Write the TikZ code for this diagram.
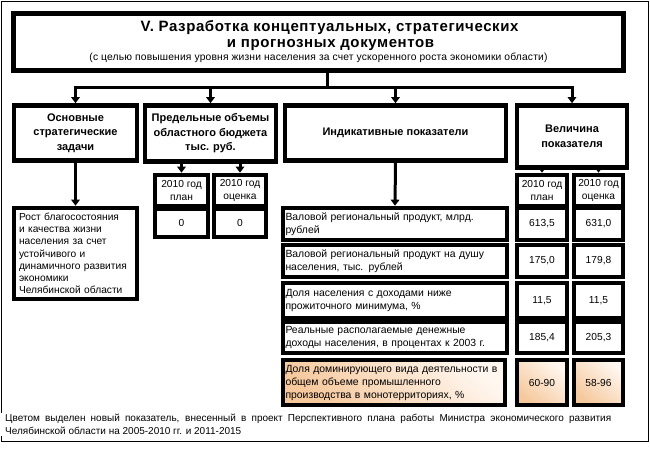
\documentclass[tikz,border=0pt]{standalone}
\usepackage{fontspec}
\setmainfont{Liberation Sans}
\usetikzlibrary{arrows.meta}
\definecolor{peachD}{RGB}{246,200,156}
\definecolor{peachL}{RGB}{255,247,240}
\begin{document}
\begin{tikzpicture}[x=1pt,y=-1pt,
  box/.style={draw=black,line width=4.6pt,inner sep=2pt,align=center,fill=white},
  hdr/.style={box,font=\fontsize{11}{14.5}\selectfont\bfseries},
  cell/.style={box,font=\fontsize{10.2}{13}\selectfont},
  rowbox/.style={box,align=left,font=\fontsize{10.4}{13}\selectfont,inner xsep=2.5pt},
  hot/.style={shading=axis,top color=peachL,bottom color=peachD,shading angle=-40},
  con/.style={line width=3pt,-{Triangle[length=6pt,width=8.5pt]}},
  plain/.style={line width=3pt,line cap=rect}
]
\useasboundingbox (0,0) rectangle (650,448);
\fill[white] (0,0) rectangle (650,448);
\draw[line width=1.3pt] (1.5,1.5) rectangle (648.5,441.5);

% title
\node[box,line width=5pt,minimum width=610pt,minimum height=57pt,inner sep=0pt] (title) at (318.5,42)
 {\hspace*{22pt}\fontsize{15}{17}\selectfont\bfseries\addfontfeatures{LetterSpace=4}V. Разработка концептуальных, стратегических\\[4pt]%
  \hspace*{24pt}\fontsize{15}{17}\selectfont\bfseries\addfontfeatures{LetterSpace=4}и прогнозных документов\\[1pt]%
  \fontsize{10.3}{12}\selectfont\addfontfeatures{LetterSpace=1.5}(с целью повышения уровня жизни населения за счет ускоренного роста экономики области)};

% header row
\node[hdr,minimum width=123pt,minimum height=55pt] (A) at (75.5,133) {Основные\\стратегические\\задачи};
\node[hdr,minimum width=131pt,minimum height=56pt] (B) at (210.5,133.5) {Предельные объемы\\областного бюджета\\тыс. руб.};
\node[hdr,minimum width=221pt,minimum height=55pt] (C) at (395.5,133) {Индикативные показатели};
\node[hdr,minimum width=110pt,minimum height=62pt] (D) at (572,136.5) {Величина\\показателя};

% trunk and bar
\coordinate (bar) at (327,87);
\draw[plain] (bar |- title.south) -- (bar);
\draw[con] (bar) -| (A.north);
\draw[con] (bar) -| (B.north);
\draw[con] (bar) -| (C.north);
\draw[con] (bar) -| (D.north);

% B sub boxes
\node[cell,minimum width=53pt,minimum height=31pt] (B1) at (181.5,190.5) {2010 год\\план};
\node[cell,minimum width=52pt,minimum height=31pt] (B2) at (240,190.5) {2010 год\\оценка};
\node[cell,minimum width=53pt,minimum height=28pt] (B1v) at (181.5,223) {0};
\node[cell,minimum width=52pt,minimum height=28pt] (B2v) at (240,223) {0};
\draw[con] (B1.north |- B.south) -- (B1.north);
\draw[con] (B2.north |- B.south) -- (B2.north);

% D sub boxes
\node[cell,minimum width=50pt,minimum height=31pt] (D1) at (542,190.5) {2010 год\\план};
\node[cell,minimum width=49pt,minimum height=31pt] (D2) at (598.5,190.5) {2010 год\\оценка};
\draw[con] (D1.north |- D.south) -- (D1.north);
\draw[con] (D2.north |- D.south) -- (D2.north);

% A text
\node[rowbox,inner xsep=5pt,text width=113pt,minimum width=123pt,minimum height=91pt,font=\fontsize{10.2}{12.2}\selectfont] (At) at (75.5,253.5)
 {Рост благосостояния\\и качества жизни\\населения за счет\\устойчивого и\\динамичного развития\\экономики\\Челябинской области};
\draw[con] (A.south) -- (At.north);

% indicator rows
\node[rowbox,text width=219pt,minimum width=224pt,minimum height=32pt] (R1) at (395,224) {Валовой региональный продукт, млрд.\\рублей};
\node[cell,minimum width=50pt,minimum height=32pt] (R1a) at (542,224) {613,5};
\node[cell,minimum width=49pt,minimum height=32pt] (R1b) at (598.5,224) {631,0};
\draw[con] (C.south) -- (R1.north);

\node[rowbox,text width=219pt,minimum width=224pt,minimum height=32pt] (R2) at (395,261) {Валовой региональный продукт на душу\\населения, тыс. рублей};
\node[cell,minimum width=50pt,minimum height=32pt] (R2a) at (542,261) {175,0};
\node[cell,minimum width=49pt,minimum height=32pt] (R2b) at (598.5,261) {179,8};

\node[rowbox,text width=219pt,minimum width=224pt,minimum height=35pt] (R3) at (395,300.5) {Доля населения с доходами ниже\\прожиточного минимума, \%};
\node[cell,minimum width=50pt,minimum height=35pt] (R3a) at (542,300.5) {11,5};
\node[cell,minimum width=49pt,minimum height=35pt] (R3b) at (598.5,300.5) {11,5};

\node[rowbox,text width=219pt,minimum width=224pt,minimum height=31pt] (R4) at (395,337.5) {Реальные располагаемые денежные\\доходы населения, в процентах к 2003 г.};
\node[cell,minimum width=50pt,minimum height=31pt] (R4a) at (542,337.5) {185,4};
\node[cell,minimum width=49pt,minimum height=31pt] (R4b) at (598.5,337.5) {205,3};

\node[rowbox,hot,text width=217pt,minimum width=222pt,minimum height=45pt] (R5) at (394,382.5) {Доля доминирующего вида деятельности в\\общем объеме промышленного\\производства в монотерриториях, \%};
\node[cell,hot,minimum width=50pt,minimum height=45pt] (R5a) at (542,382.5) {60-90};
\node[cell,hot,minimum width=49pt,minimum height=45pt] (R5b) at (598.5,382.5) {58-96};

% note
\node[anchor=north west,fill=white,inner xsep=5pt,inner ysep=1pt,align=left,font=\fontsize{10}{13}\selectfont] (note) at (0,413)
 {\makebox[606pt][s]{Цветом выделен новый показатель, внесенный в проект Перспективного плана работы Министра экономического развития}\\
  Челябинской области на 2005-2010 гг. и 2011-2015};
\end{tikzpicture}
\end{document}
